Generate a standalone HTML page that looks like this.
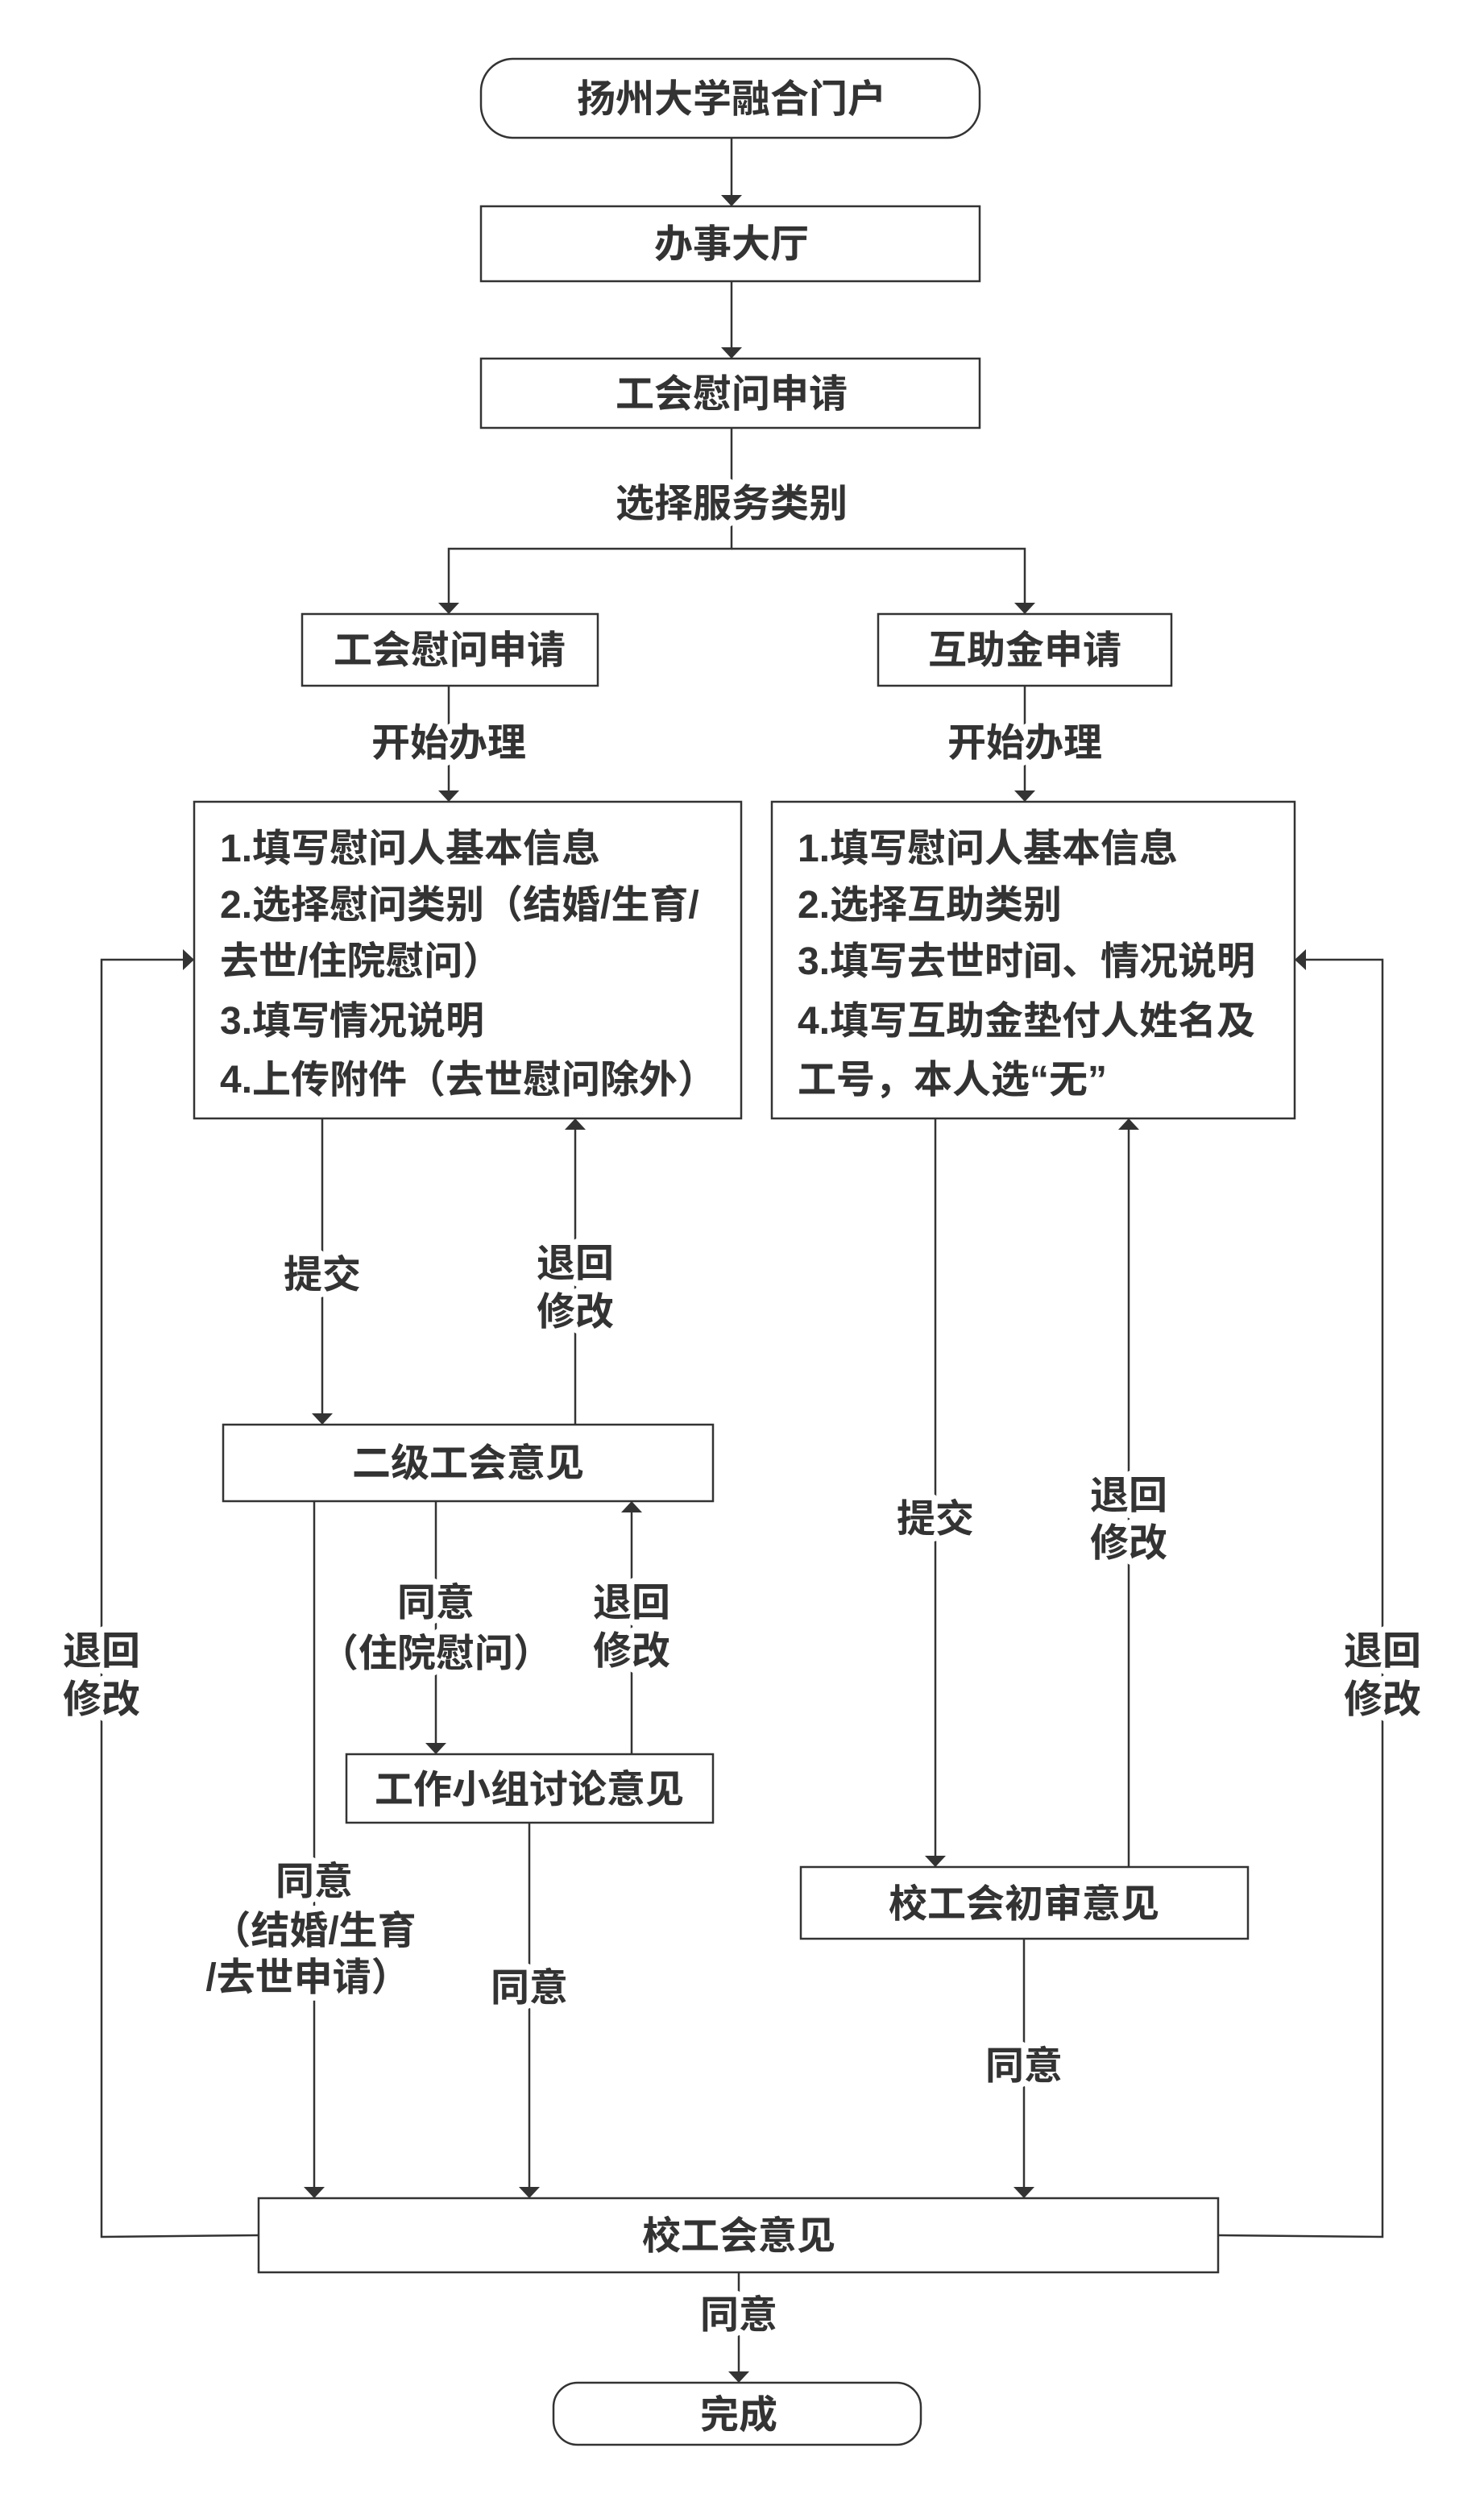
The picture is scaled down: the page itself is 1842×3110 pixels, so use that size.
<!DOCTYPE html>
<html><head><meta charset="utf-8"><style>
html,body{margin:0;padding:0;background:#fff}
svg{display:block}
text{font-family:"Liberation Sans","Noto Sans CJK SC",sans-serif;font-weight:bold;font-size:48px;fill:#333}
.h{stroke:#fff;stroke-width:16px;paint-order:stroke;stroke-linejoin:round}
</style></head><body>
<svg width="1842" height="3110" viewBox="0 0 1842 3110" xmlns="http://www.w3.org/2000/svg">
<defs><marker id="a" viewBox="0 0 14 26" refX="14" refY="13" markerWidth="14" markerHeight="26" markerUnits="userSpaceOnUse" orient="auto"><path d="M0,0 L14,13 L0,26 z" fill="#333"/></marker></defs>
<g stroke="#333" stroke-width="2.5" fill="none">
<rect x="597" y="73" width="619" height="98" rx="40"/>
<rect x="597" y="256" width="619" height="93"/>
<rect x="597" y="445" width="619" height="86"/>
<rect x="375" y="762" width="367" height="89"/>
<rect x="1090" y="762" width="364" height="89"/>
<rect x="241" y="995" width="679" height="393"/>
<rect x="958" y="995" width="649" height="393"/>
<rect x="277" y="1768" width="608" height="95"/>
<rect x="430" y="2177" width="455" height="85"/>
<rect x="994" y="2317" width="555" height="89"/>
<rect x="321" y="2728" width="1191" height="92"/>
<rect x="687" y="2957" width="456" height="77" rx="30"/>
</g>
<g stroke="#333" stroke-width="2.5" fill="none" marker-end="url(#a)">
<path d="M908,171 V256"/>
<path d="M908,349 V445"/>
<path d="M908,531 V681 H557 V762"/>
<path d="M908,681 H1272 V762"/>
<path d="M557,851 V995"/>
<path d="M1272,851 V995"/>
<path d="M400,1388 V1768"/>
<path d="M714,1768 V1388"/>
<path d="M541,1863 V2177"/>
<path d="M784,2177 V1863"/>
<path d="M390,1863 V2728"/>
<path d="M657,2262 V2728"/>
<path d="M1161,1388 V2317"/>
<path d="M1401,2317 V1388"/>
<path d="M1271,2406 V2728"/>
<path d="M321,2774 L126,2776 V1191 H241"/>
<path d="M1512,2774 L1716,2776 V1191 H1607"/>
<path d="M917,2820 V2957"/>
</g>
<g text-anchor="middle">
<text x="908" y="139">扬州大学融合门户</text>
<text x="908" y="319">办事大厅</text>
<text x="908" y="505">工会慰问申请</text>
<text class="h" x="908" y="641">选择服务类别</text>
<text x="558" y="823">工会慰问申请</text>
<text x="1272" y="823">互助金申请</text>
<text class="h" x="557" y="938">开始办理</text>
<text class="h" x="1272" y="938">开始办理</text>
<text class="h" x="400" y="1598">提交</text>
<text class="h" x="714" y="1584">退回</text>
<text class="h" x="714" y="1644">修改</text>
<text x="581" y="1832">二级工会意见</text>
<text class="h" x="541" y="2005">同意</text>
<text class="h" x="541" y="2068">（住院慰问）</text>
<text class="h" x="784" y="2005">退回</text>
<text class="h" x="784" y="2065">修改</text>
<text class="h" x="126" y="2065">退回</text>
<text class="h" x="126" y="2125">修改</text>
<text class="h" x="1716" y="2065">退回</text>
<text class="h" x="1716" y="2125">修改</text>
<text class="h" x="1161" y="1901">提交</text>
<text class="h" x="1401" y="1872">退回</text>
<text class="h" x="1401" y="1931">修改</text>
<text x="657" y="2237">工作小组讨论意见</text>
<text class="h" x="390" y="2351">同意</text>
<text class="h" x="390" y="2412">（结婚/生育</text>
<text class="h" x="382" y="2470">/去世申请）</text>
<text class="h" x="657" y="2483">同意</text>
<text x="1271" y="2379">校工会初审意见</text>
<text class="h" x="1271" y="2580">同意</text>
<text x="917" y="2791">校工会意见</text>
<text class="h" x="917" y="2889">同意</text>
<text x="917" y="3013">完成</text>
</g>
<g>
<text x="273" y="1069">1.填写慰问人基本信息</text>
<text x="273" y="1139">2.选择慰问类别（结婚/生育/</text>
<text x="273" y="1209">去世/住院慰问）</text>
<text x="273" y="1283">3.填写情况说明</text>
<text x="273" y="1356">4.上传附件（去世慰问除外）</text>
<text x="990" y="1069">1.填写慰问人基本信息</text>
<text x="990" y="1139">2.选择互助类别</text>
<text x="990" y="1209">3.填写去世时间、情况说明</text>
<text x="990" y="1283">4.填写互助金垫付人姓名及</text>
<text x="990" y="1356">工号，本人选“无”</text>
</g>
</svg>
</body></html>
